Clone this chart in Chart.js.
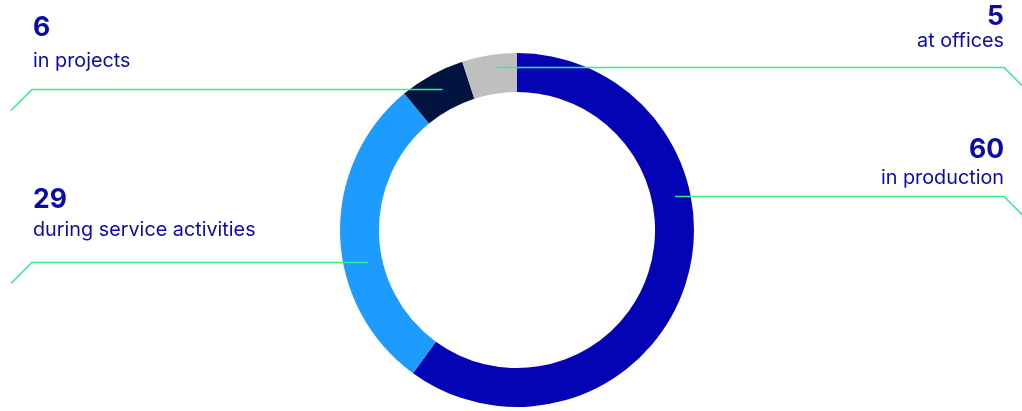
<!DOCTYPE html>
<html>
<head>
<meta charset="utf-8">
<script src="https://cdn.jsdelivr.net/npm/chart.js@4/dist/chart.umd.min.js"></script>
<style>
  html, body { margin: 0; padding: 0; background: #fff; }
  #wrap { width: 1022px; height: 411px; position: relative; }
</style>
</head>
<body>
<div id="wrap"><canvas id="donut"></canvas></div>
<script>
// Data
const CATEGORIES = ["in production", "during service activities", "in projects", "at offices"];
const VALUES = [60, 29, 6, 5];
const COLORS = ["#0404b4", "#1e9bff", "#00143f", "#bfbfbf"];

// label placement (side, where the leader line starts inside the slice, text offsets above the line)
const LABEL_SIDE = ["right", "left", "left", "right"];
const ANCHOR_FRAC = [0.36, 0.40, 0.54, 0.61];
const ANCHOR_RING = [0.61, 0.38, 0.54, 0.67];
const NUM_OFFSET = [39, 55, 54, 43];
const TEXT_OFFSET = [13, 27, 23, 21];

const TEXT_COLOR = "#0a0aa8";
const LINE_COLOR = "#33ee88";
const FONT = 'Inter, "Noto Sans", sans-serif';

const leaderLabels = {
  id: "leaderLabels",
  afterDatasetsDraw(chart) {
    const ctx = chart.ctx;
    const meta = chart.getDatasetMeta(0);
    const W = chart.width;
    meta.data.forEach((arc, i) => {
      const a = arc.startAngle + ANCHOR_FRAC[i] * (arc.endAngle - arc.startAngle);
      const r = arc.innerRadius + ANCHOR_RING[i] * (arc.outerRadius - arc.innerRadius);
      const ax = arc.x + r * Math.cos(a);
      const ay = Math.round(arc.y + r * Math.sin(a)) + 0.5;
      const left = LABEL_SIDE[i] === "left";
      const edgeX = left ? 32 : W - 18;

      ctx.save();
      ctx.strokeStyle = LINE_COLOR;
      ctx.lineWidth = 1.5;
      ctx.beginPath();
      ctx.moveTo(ax, ay);
      ctx.lineTo(edgeX, ay);
      ctx.lineTo(left ? edgeX - 21 : edgeX + 21, ay + 21);
      ctx.stroke();

      ctx.fillStyle = TEXT_COLOR;
      ctx.textAlign = left ? "left" : "right";
      ctx.textBaseline = "alphabetic";
      const tx = left ? 33 : W - 18;
      ctx.font = "700 26.5px " + FONT;
      ctx.fillText(String(VALUES[i]), tx, ay - NUM_OFFSET[i]);
      ctx.font = "400 19.8px " + FONT;
      ctx.fillText(CATEGORIES[i], tx, ay - TEXT_OFFSET[i]);
      ctx.restore();
    });
  },
};

new Chart(document.getElementById("donut"), {
  type: "doughnut",
  data: {
    labels: CATEGORIES,
    datasets: [
      {
        data: VALUES,
        backgroundColor: COLORS,
        borderWidth: 0,
        hoverOffset: 0,
      },
    ],
  },
  options: {
    responsive: true,
    maintainAspectRatio: false,
    animation: false,
    cutout: "78%",
    layout: { padding: { left: 340, right: 328, top: 53, bottom: 4 } },
    plugins: {
      legend: { display: false },
      tooltip: { enabled: false },
    },
  },
  plugins: [leaderLabels],
});
</script>
</body>
</html>
